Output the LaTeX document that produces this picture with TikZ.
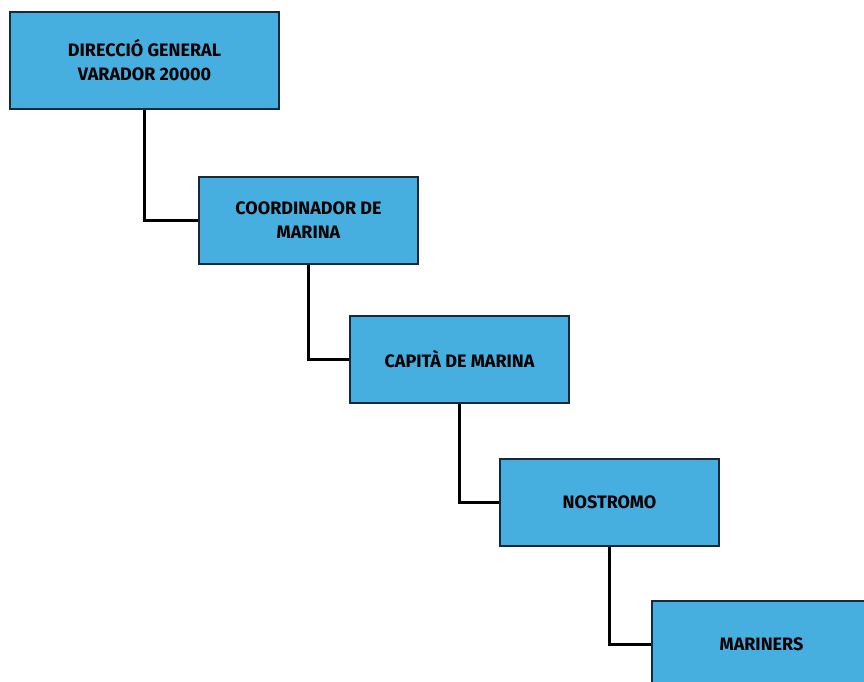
\documentclass[tikz,border=0pt]{standalone}
\usepackage{fontspec}
\setmainfont{Fira Sans}
\usepackage{tikz}
\usepackage{color}
\definecolor{boxblue}{RGB}{71,175,224}
\definecolor{boxline}{RGB}{22,40,58}

\begin{document}
\begin{tikzpicture}[x=1pt,y=-1pt]
						\tikzset{box/.style={draw=boxline,fill=boxblue,line width=2.4pt,inner sep=0pt,
						minimum width=219pt,minimum height=87pt,align=center,font=\fontsize{18}{24}\selectfont\bfseries}}
						\useasboundingbox (0,0) rectangle (864,682);
						\clip (0,0) rectangle (864,682);
						\node [box,minimum width=269pt,minimum height=97pt] (direccio) at (144.5,60.5) {DIRECCIÓ GENERAL\\VARADOR 20000};
						\node [box] (coord) at (308.5,220.5) {COORDINADOR DE\\MARINA};
						\node [box] (capita) at (459.5,359.5) {CAPITÀ DE MARINA};
						\node [box] (nostromo) at (609.5,502.5) {NOSTROMO};
						\node [box] (mariners) at (761.5,644.5) {MARINERS};
						\draw [black,line width=2.4pt] (direccio.south) |- (coord.west);
						\draw [black,line width=2.4pt] (coord.south) |- (capita.west);
						\draw [black,line width=2.4pt] (capita.south) |- (nostromo.west);
						\draw [black,line width=2.4pt] (nostromo.south) |- (mariners.west);
					\end{tikzpicture}
\end{document}
